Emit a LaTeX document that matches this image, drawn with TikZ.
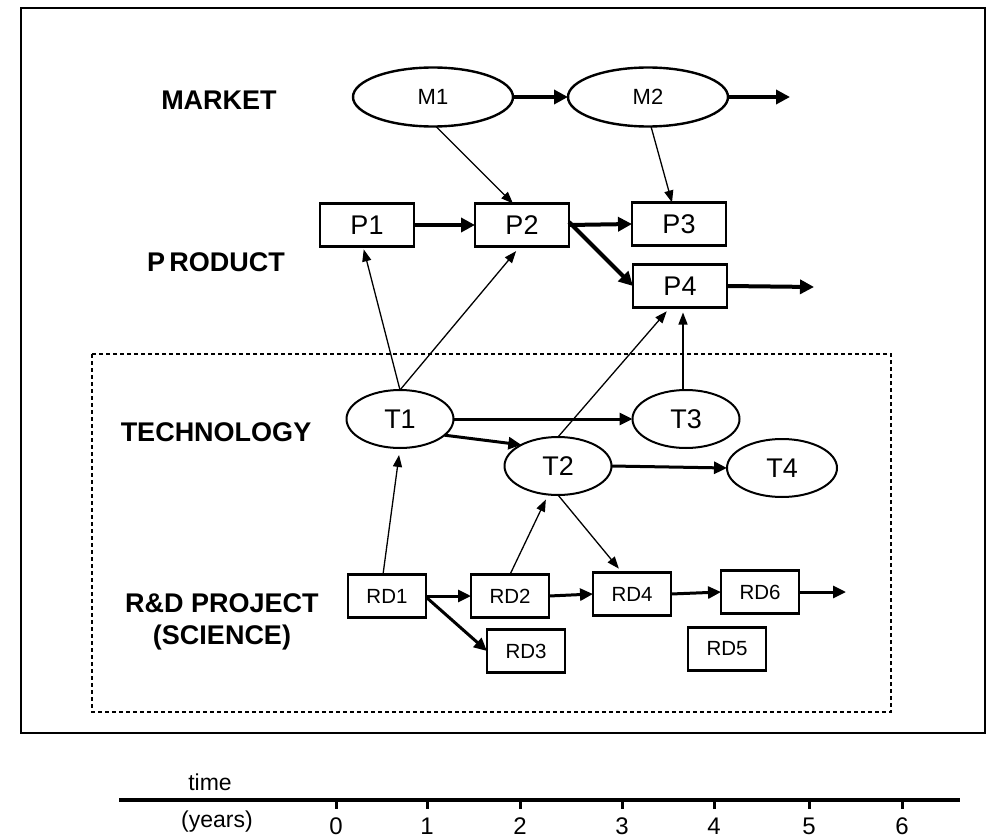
\documentclass[tikz,border=0pt]{standalone}
\usepackage{fontspec}
\setmainfont{Liberation Sans}
\usetikzlibrary{arrows.meta,shapes.geometric}
\tikzset{
  box/.style={draw, line width=2.2pt, rectangle, inner sep=0pt, outer sep=0pt, minimum width=94pt, minimum height=43pt, font=\fontsize{27}{29}\selectfont},
  rdbox/.style={draw, line width=2.2pt, rectangle, inner sep=0pt, outer sep=0pt, minimum width=78pt, minimum height=43pt, font=\fontsize{20.5}{22}\selectfont},
  mell/.style={draw, line width=2.4pt, ellipse, inner sep=0pt, outer sep=0pt, minimum width=160pt, minimum height=59pt, font=\fontsize{22}{24}\selectfont},
  tell/.style={draw, line width=2pt, ellipse, inner sep=0pt, outer sep=0pt, minimum width=107pt, minimum height=58pt, font=\fontsize{27}{29}\selectfont},
  cat/.style={font=\fontsize{27}{31}\selectfont\bfseries, align=center},
  thick arrow/.style={line width=4pt, -{Triangle[length=14pt,width=14pt]}},
  mid arrow/.style={line width=3pt, -{Triangle[length=13pt,width=12pt]}},
  thin arrow/.style={line width=1.3pt, -{Triangle[length=12pt,width=9pt]}},
  axlabel/.style={font=\fontsize{23}{25}\selectfont},
  ticklabel/.style={font=\fontsize{24}{26}\selectfont, inner sep=0pt}
}
\begin{document}
\begin{tikzpicture}[x=1pt,y=-1pt]
\useasboundingbox (0,0) rectangle (990,840);
% frames
\draw[line width=2.8pt] (21,8) rectangle (985,733);
\draw[line width=1.6pt, dash pattern=on 4pt off 3pt] (92,354) rectangle (891,712);
% category labels
\node[cat] (lmarket) at (219,100) {MARKET};
\node[cat] (lproduct) at (216,262) {P\,RODUCT};
\node[cat] (ltech) at (216,432) {TECHNOLOGY};
\node[cat] (lrd) at (222,603) {R\&D PROJECT};
\node[cat] (lsci) at (222,638) {(SCIENCE)};
% market
\node[mell] (M1) at (433,97) {M1};
\node[mell] (M2) at (648,97) {M2};
\coordinate (Mend) at (790,97);
% product
\node[box] (P1) at (367,225) {P1};
\node[box] (P2) at (522,225) {P2};
\node[box] (P3) at (679,224) {P3};
\node[box] (P4) at (680,286) {P4};
\coordinate (Pend) at (814,287);
% technology
\node[tell] (T1) at (400,419) {T1};
\node[tell] (T2) at (558,466) {T2};
\node[tell] (T3) at (686,419) {T3};
\node[tell, minimum width=110pt] (T4) at (782,468) {T4};
% R&D
\node[rdbox] (RD1) at (387,596) {RD1};
\node[rdbox] (RD2) at (510,596) {RD2};
\node[rdbox] (RD3) at (526,651) {RD3};
\node[rdbox] (RD4) at (632,594) {RD4};
\node[rdbox] (RD5) at (727,649) {RD5};
\node[rdbox] (RD6) at (760,592) {RD6};
\coordinate (RDend) at (846,592);
% market arrows
\draw[thick arrow] (M1.east) -- (M2.west);
\draw[thick arrow] (M2.east) -- (Mend);
\draw[thin arrow] ([xshift=3pt]M1.south) -- ([xshift=-9pt]P2.north);
\draw[thin arrow] ([xshift=3pt]M2.south) -- ([xshift=-7pt]P3.north);
% product arrows
\draw[thick arrow] (P1.east) -- (P2.west);
\draw[thick arrow] (P2.east) -- (P3.west);
\draw[thick arrow] ([yshift=3pt]P2.east) -- (P4.west);
\draw[thick arrow] (P4.east) -- (Pend);
% technology to product
\draw[thin arrow, shorten >=3pt] (T1.north) -- ([xshift=-4pt]P1.south);
\draw[thin arrow, shorten >=6pt] (T1.north) -- ([xshift=-2pt]P2.south);
\draw[thin arrow, shorten >=5pt] (T2.north) -- ([xshift=-10pt]P4.south);
\draw[thin arrow, shorten >=5pt] ([xshift=-3pt]T3.north) -- ([xshift=3pt]P4.south);
% technology arrows
\draw[mid arrow] (T1.east) -- (T3.west);
\draw[mid arrow] (T2.east) -- (T4.west);
\draw[mid arrow] (T1.-20) -- (T2.150);
% R&D to technology
\draw[thin arrow, shorten >=7pt] ([xshift=-4pt]RD1.north) -- (T1.south);
\draw[thin arrow, shorten >=5pt] (RD2.north) -- ([xshift=-10pt]T2.south);
\draw[thin arrow, shorten >=5pt] (T2.south) -- ([xshift=-10pt]RD4.north);
% R&D arrows
\draw[mid arrow] (RD1.east) -- (RD2.west);
\draw[mid arrow] (RD2.east) -- (RD4.west);
\draw[mid arrow] (RD4.east) -- (RD6.west);
\draw[mid arrow] (RD6.east) -- (RDend);
\draw[mid arrow] ([yshift=-1pt]RD1.east) -- (RD3.west);
% time axis
\node[axlabel] (ltime) at (210,782) {time};
\node[axlabel] (lyears) at (217,822) {(years)};
\coordinate (axs) at (119,800);
\coordinate (axe) at (960,800);
\draw[line width=4pt] (axs) -- (axe);
\foreach \x/\n in {336/0,427/1,520/2,622/3,714/4,809/5,902/6}{
  \draw[line width=3pt] (\x,800) -- (\x,809);
  \node[ticklabel] (tick\n) at (\x,826) {\n};
}
\end{tikzpicture}
\end{document}
